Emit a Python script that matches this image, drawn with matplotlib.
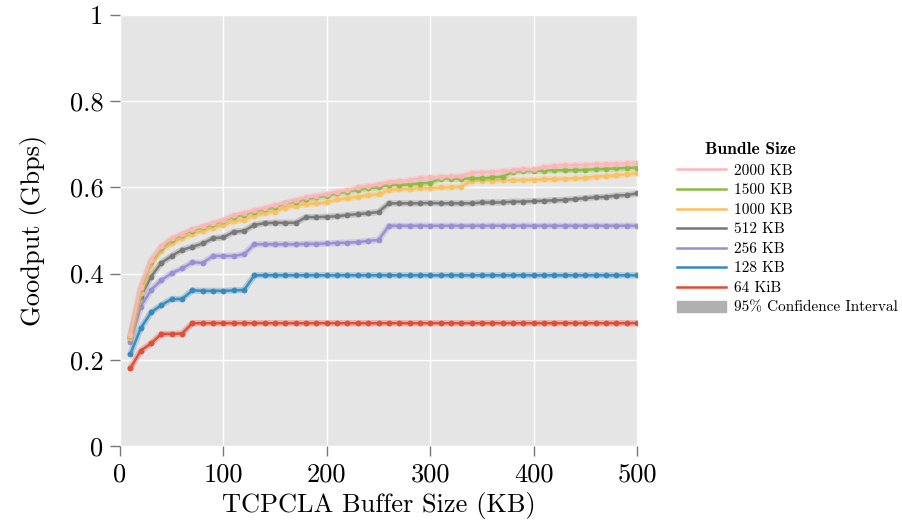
import matplotlib
matplotlib.use("Agg")
import matplotlib.pyplot as plt
from matplotlib.lines import Line2D
from matplotlib.patches import Patch

plt.rcParams['font.family'] = 'cmr10'
plt.rcParams['axes.unicode_minus'] = False

# buffer sizes (KB)
buffer_kb = [10, 20, 30, 40, 50, 60, 70, 80, 90, 100,
             110, 120, 130, 140, 150, 160, 170, 180, 190, 200,
             210, 220, 230, 240, 250, 260, 270, 280, 290, 300,
             310, 320, 330, 340, 350, 360, 370, 380, 390, 400,
             410, 420, 430, 440, 450, 460, 470, 480, 490, 500]

# goodput (Gbps) per bundle size
gp_2000 = [0.258, 0.370, 0.432, 0.464, 0.482, 0.493, 0.503, 0.510, 0.518, 0.524,
           0.536, 0.541, 0.547, 0.553, 0.559, 0.564, 0.571, 0.577, 0.581, 0.585,
           0.590, 0.594, 0.600, 0.604, 0.607, 0.613, 0.615, 0.617, 0.621, 0.623,
           0.625, 0.626, 0.627, 0.634, 0.635, 0.636, 0.638, 0.640, 0.642, 0.642,
           0.648, 0.650, 0.652, 0.652, 0.653, 0.654, 0.655, 0.655, 0.656, 0.657]
gp_1500 = [0.255, 0.365, 0.428, 0.460, 0.478, 0.490, 0.500, 0.507, 0.514, 0.522,
           0.532, 0.536, 0.544, 0.549, 0.554, 0.563, 0.567, 0.572, 0.577, 0.580,
           0.586, 0.590, 0.594, 0.598, 0.600, 0.606, 0.606, 0.607, 0.609, 0.611,
           0.620, 0.620, 0.620, 0.621, 0.621, 0.623, 0.625, 0.636, 0.638, 0.638,
           0.639, 0.640, 0.640, 0.640, 0.641, 0.642, 0.643, 0.644, 0.645, 0.646]
gp_1000 = [0.250, 0.355, 0.420, 0.453, 0.470, 0.482, 0.491, 0.499, 0.506, 0.512,
           0.522, 0.524, 0.534, 0.540, 0.544, 0.553, 0.557, 0.561, 0.563, 0.565,
           0.572, 0.575, 0.578, 0.582, 0.584, 0.594, 0.596, 0.596, 0.598, 0.598,
           0.600, 0.600, 0.602, 0.615, 0.616, 0.616, 0.617, 0.617, 0.617, 0.618,
           0.619, 0.619, 0.620, 0.621, 0.622, 0.625, 0.626, 0.628, 0.630, 0.633]
gp_512 = [0.250, 0.346, 0.393, 0.425, 0.441, 0.455, 0.462, 0.470, 0.482, 0.484,
          0.497, 0.499, 0.513, 0.517, 0.518, 0.518, 0.518, 0.531, 0.531, 0.532,
          0.533, 0.536, 0.538, 0.540, 0.543, 0.563, 0.563, 0.563, 0.563, 0.564,
          0.563, 0.563, 0.563, 0.563, 0.565, 0.565, 0.565, 0.567, 0.567, 0.568,
          0.569, 0.570, 0.571, 0.573, 0.575, 0.577, 0.578, 0.581, 0.582, 0.586]
gp_256 = [0.242, 0.323, 0.362, 0.385, 0.401, 0.412, 0.426, 0.425, 0.441, 0.441,
          0.441, 0.445, 0.468, 0.468, 0.468, 0.468, 0.468, 0.469, 0.469, 0.470,
          0.471, 0.472, 0.473, 0.476, 0.478, 0.511, 0.511, 0.511, 0.511, 0.511,
          0.511, 0.511, 0.511, 0.511, 0.511, 0.511, 0.511, 0.511, 0.511, 0.511,
          0.511, 0.511, 0.511, 0.511, 0.511, 0.511, 0.511, 0.511, 0.511, 0.511]
gp_128 = [0.213, 0.273, 0.310, 0.327, 0.341, 0.341, 0.361, 0.360, 0.360, 0.360,
          0.361, 0.362, 0.396, 0.396, 0.396, 0.396, 0.396, 0.396, 0.396, 0.396,
          0.396, 0.396, 0.396, 0.396, 0.396, 0.396, 0.396, 0.396, 0.396, 0.396,
          0.396, 0.396, 0.396, 0.396, 0.396, 0.396, 0.396, 0.396, 0.396, 0.396,
          0.396, 0.396, 0.396, 0.396, 0.396, 0.396, 0.396, 0.396, 0.396, 0.396]
gp_64 = [0.180, 0.221, 0.238, 0.260, 0.260, 0.261, 0.285, 0.285, 0.285, 0.285,
         0.285, 0.285, 0.285, 0.285, 0.285, 0.285, 0.285, 0.285, 0.285, 0.285,
         0.285, 0.285, 0.285, 0.285, 0.285, 0.285, 0.285, 0.285, 0.285, 0.285,
         0.285, 0.285, 0.285, 0.285, 0.285, 0.285, 0.285, 0.285, 0.285, 0.285,
         0.285, 0.285, 0.285, 0.285, 0.285, 0.285, 0.285, 0.285, 0.285, 0.285]

labels = ["2000 KB", "1500 KB", "1000 KB", "512 KB", "256 KB", "128 KB", "64 KiB"]
series = [gp_2000, gp_1500, gp_1000, gp_512, gp_256, gp_128, gp_64]
colors = ["#FFB5B8", "#8EBA42", "#FBC15E", "#777777", "#988ED5", "#348ABD", "#E24A33"]

fig = plt.figure(figsize=(9.03, 5.22), dpi=100)
ax = fig.add_axes([120/903, 1-446/522, 517/903, 431/522])
ax.set_facecolor("#E5E5E5")

# draw smallest first so the big bundles sit on top
for lab, ys, c in reversed(list(zip(labels, series, colors))):
    ax.plot(buffer_kb, ys, color=c, lw=4.5, alpha=0.3, solid_capstyle='round')
    ax.plot(buffer_kb, ys, color=c, lw=1.8, marker='o', markersize=4.2,
            markeredgewidth=0, alpha=0.95)

ax.set_xlim(0, 500)
ax.set_ylim(0, 1)
ax.set_xticks([0, 100, 200, 300, 400, 500])
ax.set_yticks([0, 0.2, 0.4, 0.6, 0.8, 1.0])
ax.set_yticklabels(["0", "0.2", "0.4", "0.6", "0.8", "1"])
ax.grid(True, color="white", lw=1.0)
ax.set_axisbelow(True)
for s in ax.spines.values():
    s.set_visible(False)
ax.tick_params(direction='out', length=7, width=1, color='#777777',
               labelsize=19, pad=5)
ax.set_xlabel("TCPCLA Buffer Size (KB)", fontsize=19, labelpad=4)
ax.set_ylabel("Goodput (Gbps)", fontsize=19, labelpad=16)

handles = [Line2D([], [], color=c, lw=1.8) for c in colors]
handles.append(Patch(color="#B0B0B0"))
fig.legend(handles, labels + ["95% Confidence Interval"],
           loc='upper left', bbox_to_anchor=(671/903, 1-158/522),
           frameon=False, fontsize=11, handlelength=3.2, handletextpad=0.5,
           labelspacing=0.38, borderaxespad=0)
fig.text(705/903, 1-150/522, "Bundle Size", family='cmb10', fontsize=12.5,
         va='center', ha='left')

fig.savefig("out.png", dpi=100)
